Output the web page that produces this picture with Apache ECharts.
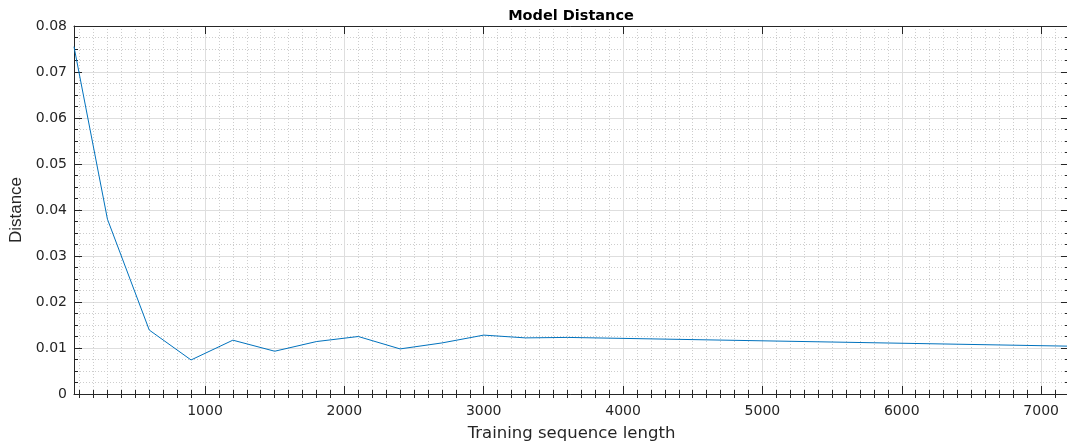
<!DOCTYPE html>
<html>
<head>
<meta charset="utf-8">
<script src="https://cdn.jsdelivr.net/npm/echarts@6/dist/echarts.min.js"></script>
<style>
html,body{margin:0;padding:0;background:#fff;}
#chart{width:1067px;height:443px;}
</style>
</head>
<body>
<div id="chart"></div>
<script>
const lengths = [60, 300, 600, 900, 1200, 1500, 1800, 2100, 2400, 2700, 3000, 3300, 3600, 7200];
const distance = [0.0755, 0.0380, 0.0139, 0.0074, 0.0117, 0.0093, 0.0114, 0.0125, 0.0098, 0.0111, 0.0128, 0.0122, 0.0123, 0.0104];
const xMajorTicks = [1000, 2000, 3000, 4000, 5000, 6000, 7000];
const xMinorTicks = [];
for (let v = 100; v < 7200; v += 100) { if (v % 1000 !== 0) xMinorTicks.push(v); }

const axisColor = '#262626';
const tickFont = { fontFamily: 'DejaVu Sans', fontSize: 14, color: axisColor };
const X_MIN = 60, X_MAX = 7200;

const chart = echarts.init(document.getElementById('chart'), null, { renderer: 'canvas' });
const baseX = (extra) => Object.assign({
  type: 'value', min: X_MIN, max: X_MAX, gridIndex: 0,
  axisLine: { show: false, lineStyle: { color: axisColor, width: 1 } },
  axisLabel: { show: false },
  axisTick: { show: false },
  splitLine: { show: false },
  minorTick: { show: false },
  minorSplitLine: { show: false }
}, extra);

const option = {
  animation: false,
  backgroundColor: '#ffffff',
  title: {
    text: 'Model Distance',
    left: 571, textAlign: 'center', top: 9, padding: 0,
    textStyle: { fontFamily: 'DejaVu Sans', fontWeight: 'bold', fontSize: 14.5, color: '#000' }
  },
  grid: { left: 74, top: 26, right: -2, bottom: 49, containLabel: false, outerBoundsMode: 'none' },
  xAxis: [
    baseX({
      position: 'bottom',
      name: 'Training sequence length', nameLocation: 'middle', nameGap: 31,
      nameTextStyle: { fontFamily: 'DejaVu Sans', fontSize: 16.5, color: axisColor },
      axisLine: { show: true, onZero: false, lineStyle: { color: axisColor, width: 1 } },
      axisTick: { show: true, inside: true, length: 8, customValues: xMajorTicks, lineStyle: { color: axisColor } },
      axisLabel: Object.assign({ show: true, margin: 10, customValues: xMajorTicks, formatter: v => String(v) }, tickFont),
      splitLine: { show: true, lineStyle: { color: '#dedede', width: 1, type: 'solid' } }
    }),
    baseX({
      position: 'bottom',
      axisTick: { show: true, inside: true, length: 4, customValues: xMinorTicks, lineStyle: { color: axisColor } },
      splitLine: { show: true, lineStyle: { color: '#cdcdcd', width: 1, type: [1, 2] } }
    }),
    baseX({
      position: 'top',
      axisLine: { show: true, onZero: false, lineStyle: { color: axisColor, width: 1 } },
      axisTick: { show: true, inside: true, length: 8, customValues: xMajorTicks, lineStyle: { color: axisColor } }
    }),
    baseX({
      position: 'top',
      axisTick: { show: true, inside: true, length: 4, customValues: xMinorTicks, lineStyle: { color: axisColor } }
    })
  ],
  yAxis: [
    {
      type: 'value', min: 0, max: 0.08, interval: 0.01, position: 'left',
      name: 'Distance', nameLocation: 'middle', nameGap: 39,
      nameTextStyle: { fontFamily: 'Liberation Sans', fontSize: 17, color: axisColor },
      axisLine: { show: true, onZero: false, lineStyle: { color: axisColor, width: 1 } },
      axisTick: { show: true, inside: true, length: 8, lineStyle: { color: axisColor } },
      minorTick: { show: true, splitNumber: 4, length: 4, lineStyle: { color: axisColor } },
      axisLabel: Object.assign({ margin: 7, padding: [4, 0, 0, 0], formatter: v => v === 0 ? '0' : v.toFixed(2) }, tickFont),
      splitLine: { show: true, lineStyle: { color: '#dedede', width: 1 } },
      minorSplitLine: { show: true, lineStyle: { color: '#cdcdcd', width: 1, type: [1, 2] } }
    },
    {
      type: 'value', min: 0, max: 0.08, interval: 0.01, position: 'right',
      axisLine: { show: true, onZero: false, lineStyle: { color: axisColor, width: 1 } },
      axisTick: { show: true, inside: true, length: 8, lineStyle: { color: axisColor } },
      minorTick: { show: true, splitNumber: 4, length: 4, lineStyle: { color: axisColor } },
      axisLabel: { show: false },
      splitLine: { show: false },
      minorSplitLine: { show: false }
    }
  ],
  series: [{
    type: 'line',
    xAxisIndex: 0, yAxisIndex: 0,
    data: lengths.map((x, i) => [x, distance[i]]),
    showSymbol: false, symbol: 'none',
    lineStyle: { color: '#0072BD', width: 1 },
    itemStyle: { color: '#0072BD' },
    clip: true
  }]
};
chart.setOption(option);
</script>
</body>
</html>
